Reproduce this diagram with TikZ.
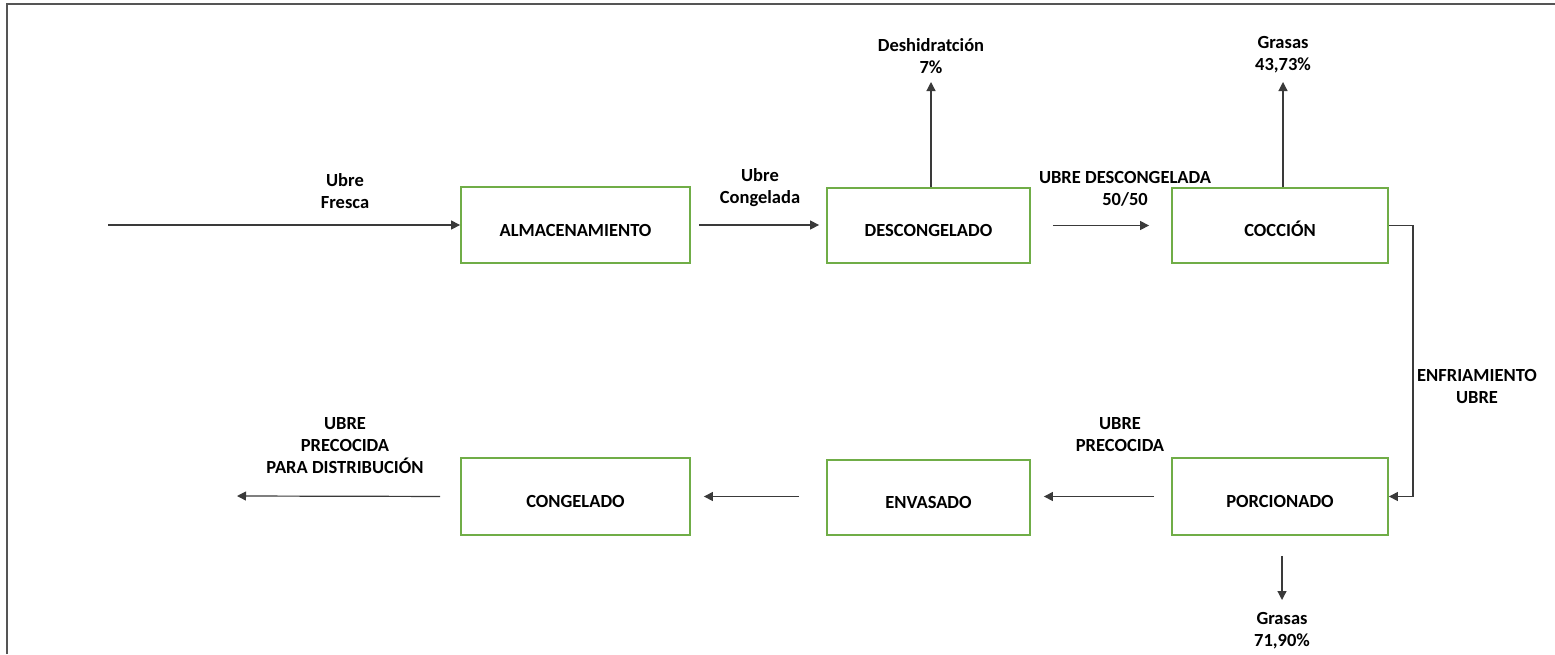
\documentclass[tikz,border=0pt]{standalone}
\usepackage{fontspec}
\setmainfont{Carlito}
\usetikzlibrary{arrows.meta}
\definecolor{boxgreen}{HTML}{70AD47}
\definecolor{linegray}{HTML}{3A3A3A}
\definecolor{framegray}{HTML}{555555}
\begin{document}
\begin{tikzpicture}[x=1pt,y=-1pt,
  font=\fontsize{18.5}{22}\selectfont\bfseries,
  procbox/.style={draw=boxgreen,line width=1.8pt,rectangle,inner sep=0pt,
    text height=22pt,text depth=0pt},
  flow/.style={draw=linegray,line width=1.2pt,-{Triangle[length=9pt,width=9pt]}},
  tag/.style={align=center,inner sep=0pt}]
\useasboundingbox (0,0) rectangle (1555,654);
% page frame
\draw[framegray,line width=2.5pt] (7,654) -- (7,4) -- (1555,4);

% process boxes
\node[procbox,minimum width=229pt,minimum height=76pt] (alm) at (575.5,225) {ALMACENAMIENTO};
\node[procbox,minimum width=203pt,minimum height=75pt] (desc) at (928.5,225.5) {DESCONGELADO};
\node[procbox,minimum width=216pt,minimum height=75pt] (cocc) at (1280,225.5) {COCCIÓN};
\node[procbox,minimum width=216pt,minimum height=77pt] (porc) at (1280,496.5) {PORCIONADO};
\node[procbox,minimum width=203pt,minimum height=75pt] (env) at (928.5,497.5) {ENVASADO};
\node[procbox,minimum width=229pt,minimum height=77pt] (cong) at (575.5,496.5) {CONGELADO};

% free ends
\coordinate (in) at (108,225);
\coordinate (out) at (237,496);
\coordinate (deshout) at (931,82);
\coordinate (grasa1) at (1283,82);
\coordinate (grasa2) at (1282,600);

% labels
\node[tag] (lfresca) at (345,191) {Ubre\\Fresca};
\node[tag] (lcong) at (760,188) {Ubre\\Congelada};
\node[tag] (ldesc) at (1125,189) {UBRE DESCONGELADA\\50/50};
\node[tag] (ldesh) at (931,56) {Deshidratción\\7\%};
\node[tag] (lgr1) at (1283,55) {Grasas\\43,73\%};
\node[tag] (lenf) at (1477,386) {ENFRIAMIENTO\\UBRE};
\node[tag] (lprec) at (1120,435) {UBRE\\PRECOCIDA};
\node[tag] (ldist) at (345,446) {UBRE\\PRECOCIDA\\PARA DISTRIBUCIÓN};
\node[tag] (lgr2) at (1282,631) {Grasas\\71,90\%};

% connectors
\draw[flow] (in) -- (alm.west);
\draw[flow,shorten <=8pt,shorten >=7pt] (alm.east) -- (desc.west |- alm.east);
\draw[flow,shorten <=22pt,shorten >=22pt] (desc.east) -- (cocc.west);
\draw[flow] (desc.north -| deshout) -- (deshout);
\draw[flow] (cocc.north -| grasa1) -- (grasa1);
\draw[flow] (cocc.east) -- ++(24,0) |- (porc.east);
\draw[flow,shorten <=17pt,shorten >=13pt] (porc.west) -- (env.east |- porc.west);
\draw[flow,shorten <=27pt,shorten >=13pt] (env.west |- cong.east) -- (cong.east);
\draw[flow,shorten <=20pt] (cong.west) -- (out);
\draw[flow,shorten <=20pt] (porc.south -| grasa2) -- (grasa2);
\end{tikzpicture}
\end{document}
